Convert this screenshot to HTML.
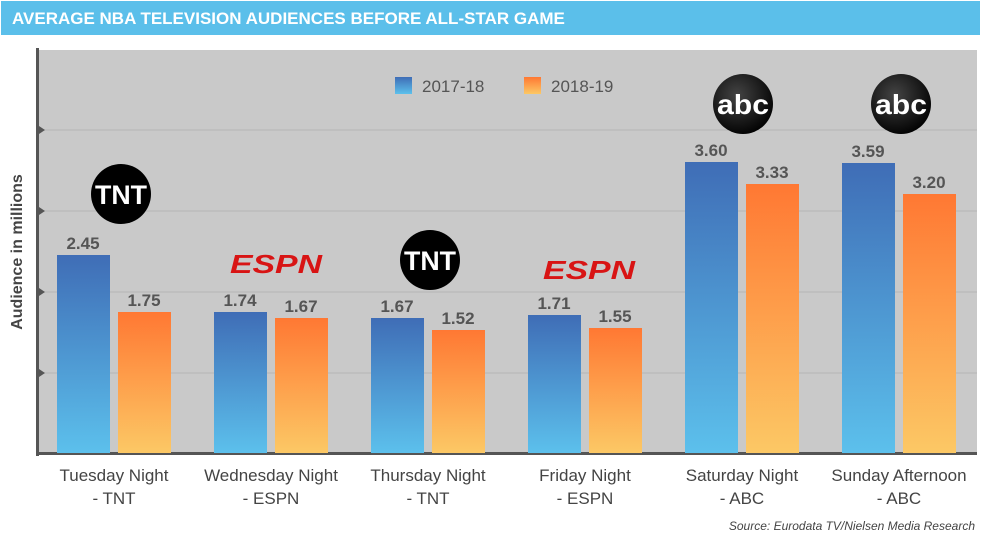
<!DOCTYPE html><html><head><style>body{margin:0;background:#fff}svg{display:block;font-family:"Liberation Sans",sans-serif}</style></head><body>
<svg width="981" height="535" viewBox="0 0 981 535">
<defs>
<linearGradient id="b" x1="0" y1="0" x2="0" y2="1"><stop offset="0" stop-color="#3f6db6"/><stop offset="1" stop-color="#5cc0ec"/></linearGradient>
<linearGradient id="o" x1="0" y1="0" x2="0" y2="1"><stop offset="0" stop-color="#ff7833"/><stop offset="1" stop-color="#fcc865"/></linearGradient>
<radialGradient id="k" cx="0.4" cy="0.35" r="0.7"><stop offset="0" stop-color="#444"/><stop offset="1" stop-color="#000"/></radialGradient>
</defs>
<rect x="1" y="1" width="979" height="34" fill="#5bbfea"/>
<text x="12" y="24" fill="#fff" font-size="17" font-weight="bold">AVERAGE NBA TELEVISION AUDIENCES BEFORE ALL-STAR GAME</text>
<rect x="38" y="50" width="939" height="403" fill="#c9c9c9"/>
<g stroke="#b5b5b5" stroke-width="1"><line x1="38" y1="130" x2="977" y2="130"/><line x1="38" y1="211" x2="977" y2="211"/><line x1="38" y1="292" x2="977" y2="292"/><line x1="38" y1="373" x2="977" y2="373"/></g>
<g fill="#555"><path d="M39 126l6 4-6 4z"/><path d="M39 207l6 4-6 4z"/><path d="M39 288l6 4-6 4z"/><path d="M39 369l6 4-6 4z"/></g>
<rect x="36" y="48" width="3" height="408" fill="#555"/>
<rect x="36" y="452" width="941" height="3" fill="#555"/>
<g>
<rect x="57" y="255" width="53" height="198" fill="url(#b)"/><rect x="118" y="312" width="53" height="141" fill="url(#o)"/>
<rect x="214" y="312" width="53" height="141" fill="url(#b)"/><rect x="275" y="318" width="53" height="135" fill="url(#o)"/>
<rect x="371" y="318" width="53" height="135" fill="url(#b)"/><rect x="432" y="330" width="53" height="123" fill="url(#o)"/>
<rect x="528" y="315" width="53" height="138" fill="url(#b)"/><rect x="589" y="328" width="53" height="125" fill="url(#o)"/>
<rect x="685" y="162" width="53" height="291" fill="url(#b)"/><rect x="746" y="184" width="53" height="269" fill="url(#o)"/>
<rect x="842" y="163" width="53" height="290" fill="url(#b)"/><rect x="903" y="194" width="53" height="259" fill="url(#o)"/>
</g>
<g fill="#555" font-size="17" font-weight="bold" text-anchor="middle">
<text x="83" y="249">2.45</text><text x="144" y="306">1.75</text>
<text x="240" y="306">1.74</text><text x="301" y="312">1.67</text>
<text x="397" y="312">1.67</text><text x="458" y="324">1.52</text>
<text x="554" y="309">1.71</text><text x="615" y="322">1.55</text>
<text x="711" y="156">3.60</text><text x="772" y="178">3.33</text>
<text x="868" y="157">3.59</text><text x="929" y="188">3.20</text>
</g>
<rect x="395" y="77" width="17" height="17" fill="url(#b)"/><text x="422" y="92" font-size="17" fill="#555">2017-18</text>
<rect x="524" y="77" width="17" height="17" fill="url(#o)"/><text x="551" y="92" font-size="17" fill="#555">2018-19</text>
<g font-weight="bold" text-anchor="middle">
<circle cx="121" cy="194" r="30" fill="#000"/><text x="121" y="204" fill="#fff" font-size="27" textLength="52" lengthAdjust="spacingAndGlyphs">TNT</text>
<circle cx="430" cy="260" r="30" fill="#000"/><text x="430" y="270" fill="#fff" font-size="27" textLength="52" lengthAdjust="spacingAndGlyphs">TNT</text>
<text x="276" y="273" fill="#d81414" font-size="26" font-style="italic" textLength="92" lengthAdjust="spacingAndGlyphs">ESPN</text>
<text x="589" y="279" fill="#d81414" font-size="26" font-style="italic" textLength="92" lengthAdjust="spacingAndGlyphs">ESPN</text>
<circle cx="743" cy="104" r="30" fill="url(#k)"/><text x="743" y="114" fill="#fff" font-size="28" textLength="52" lengthAdjust="spacingAndGlyphs">abc</text>
<circle cx="901" cy="104" r="30" fill="url(#k)"/><text x="901" y="114" fill="#fff" font-size="28" textLength="52" lengthAdjust="spacingAndGlyphs">abc</text>
</g>
<g fill="#444" font-size="17" text-anchor="middle">
<text x="114" y="481">Tuesday Night</text><text x="114" y="504">- TNT</text>
<text x="271" y="481">Wednesday Night</text><text x="271" y="504">- ESPN</text>
<text x="428" y="481">Thursday Night</text><text x="428" y="504">- TNT</text>
<text x="585" y="481">Friday Night</text><text x="585" y="504">- ESPN</text>
<text x="742" y="481">Saturday Night</text><text x="742" y="504">- ABC</text>
<text x="899" y="481">Sunday Afternoon</text><text x="899" y="504">- ABC</text>
</g>
<text transform="translate(22,252) rotate(-90)" text-anchor="middle" fill="#444" font-size="16" font-weight="bold">Audience in millions</text>
<text x="975" y="530" text-anchor="end" fill="#444" font-size="12" font-style="italic">Source: Eurodata TV/Nielsen Media Research</text>
</svg>
</body></html>
